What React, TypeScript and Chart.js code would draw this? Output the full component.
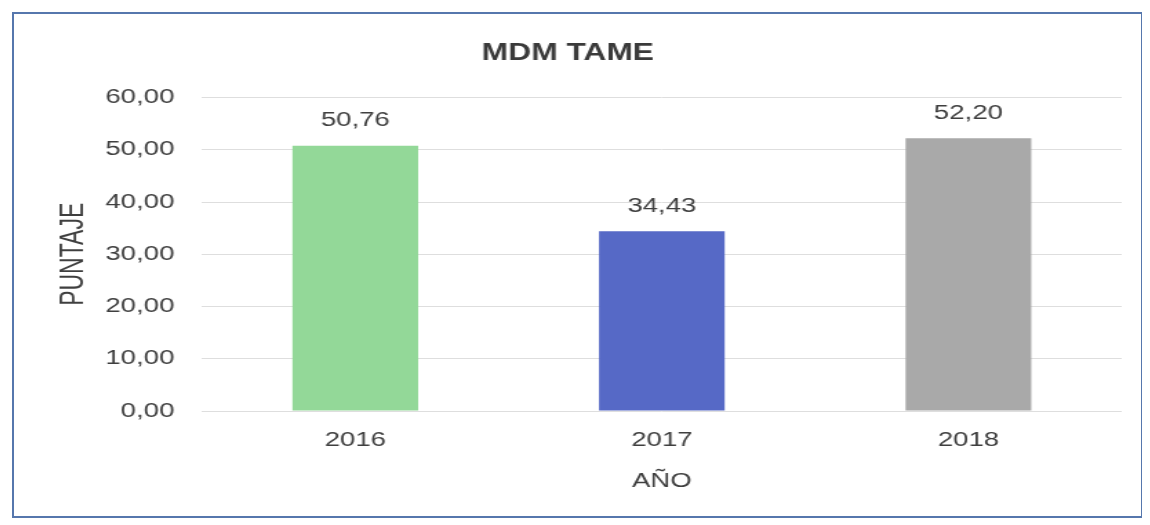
import React, { useEffect, useRef } from "react";
import { Chart, registerables } from "chart.js";

Chart.register(...registerables);

const categories = ["2016", "2017", "2018"];
const values = [50.76, 34.43, 52.2];
const barColors = ["#93d898", "#5669c6", "#a9a9a9"];
const yTicks = [0, 10, 20, 30, 40, 50, 60];
const titleText = "MDM TAME";
const yTitle = "PUNTAJE";
const xTitle = "AÑO";

const fmt = (v: number) => Number(v).toFixed(2).replace(".", ",");

const FONT = "'Liberation Sans', Arial, sans-serif";
const STRETCH = 1127 / 817;

const valueLabels = {
  id: "valueLabels",
  afterDatasetsDraw(chart: any) {
    const ctx = chart.ctx;
    const meta = chart.getDatasetMeta(0);
    ctx.save();
    ctx.font = `20px ${FONT}`;
    ctx.fillStyle = "#3f3f3f";
    ctx.textAlign = "center";
    ctx.textBaseline = "middle";
    meta.data.forEach((el: any, i: number) => {
      ctx.fillText(fmt(values[i]), el.x, el.y - 25);
    });
    ctx.restore();
  },
};

export default function App() {
  const ref = useRef<HTMLCanvasElement>(null);
  useEffect(() => {
    if (!ref.current) return;
    const chart = new Chart(ref.current, {
      type: "bar",
      data: {
        labels: categories,
        datasets: [
          {
            data: values,
            backgroundColor: barColors,
            borderWidth: 0,
            barPercentage: 0.41,
            categoryPercentage: 1,
          },
        ],
      },
      options: {
        responsive: false,
        animation: false,
        layout: { padding: { left: 0, right: 14, top: 0, bottom: 23 } },
        plugins: {
          legend: { display: false },
          tooltip: { enabled: false },
          title: {
            display: true,
            text: titleText,
            color: "#3a3a3a",
            font: { family: FONT, size: 23, weight: "bold" },
            padding: { top: 26, bottom: 30 },
          },
        },
        scales: {
          x: {
            grid: { display: false, drawTicks: false },
            border: { display: false },
            ticks: {
              color: "#3f3f3f",
              font: { family: FONT, size: 20 },
              padding: 17,
            },
            title: {
              display: true,
              text: xTitle,
              color: "#3f3f3f",
              font: { family: FONT, size: 20 },
              padding: { top: 0, bottom: 0 },
            },
          },
          y: {
            min: 0,
            max: 60,
            afterFit(scale: any) {
              scale.width = 136.3;
            },
            afterBuildTicks(scale: any) {
              scale.ticks = yTicks.map((v) => ({ value: v }));
            },
            grid: { color: "#dedede", lineWidth: 1, drawTicks: false },
            border: { display: false },
            ticks: {
              color: "#3f3f3f",
              font: { family: FONT, size: 20 },
              padding: 20,
              callback: (v: any) => fmt(Number(v)),
            },
            title: {
              display: true,
              text: yTitle,
              color: "#3f3f3f",
              font: { family: FONT, size: 23 },
              padding: { top: 30, bottom: 0 },
            },
          },
        },
      },
      plugins: [valueLabels],
    });
    return () => chart.destroy();
  }, []);

  return (
    <div style={{ paddingLeft: 4, paddingTop: 4 }}>
      <div
        style={{
          width: 1131,
          height: 506,
          boxSizing: "border-box",
          border: "2px solid #5677ad",
          background: "#ffffff",
          overflow: "hidden",
        }}
      >
        <div
          style={{
            width: 817,
            height: 502,
            transform: `scaleX(${STRETCH})`,
            transformOrigin: "0 0",
          }}
        >
          <canvas ref={ref} width={817} height={502} style={{ display: "block" }} />
        </div>
      </div>
    </div>
  );
}
